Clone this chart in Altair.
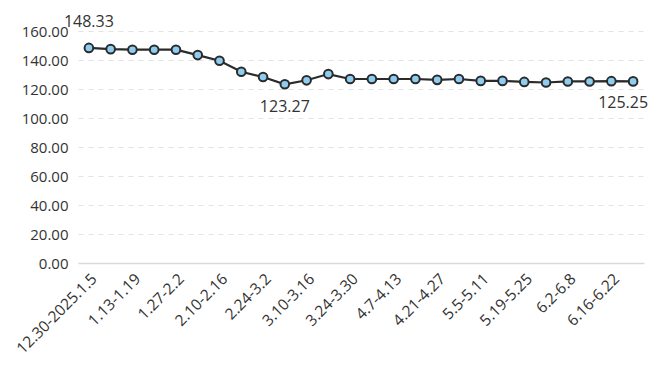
import altair as alt
import pandas as pd

weeks = ["12.30-2025.1.5", "1.6-1.12", "1.13-1.19", "1.20-1.26", "1.27-2.2", "2.3-2.9",
         "2.10-2.16", "2.17-2.23", "2.24-3.2", "3.3-3.9", "3.10-3.16", "3.17-3.23",
         "3.24-3.30", "3.31-4.6", "4.7-4.13", "4.14-4.20", "4.21-4.27", "4.28-5.4",
         "5.5-5.11", "5.12-5.18", "5.19-5.25", "5.26-6.1", "6.2-6.8", "6.9-6.15",
         "6.16-6.22", "6.23-6.29"]
values = [148.33, 147.5, 147.1, 147.1, 147.1, 143.4, 139.5, 131.9, 128.3, 123.27,
          126.0, 130.3, 126.9, 126.9, 126.9, 126.9, 126.3, 126.9, 125.6, 125.6,
          124.9, 124.5, 125.2, 125.2, 125.4, 125.25]
tick_labels = weeks[::2]
y_ticks = [0, 20, 40, 60, 80, 100, 120, 140, 160]

df = pd.DataFrame({"week": weeks, "value": values})

imax = values.index(max(values))
imin = values.index(min(values))
ilast = len(values) - 1
ann_max = pd.DataFrame({"week": [weeks[imax]], "value": [values[imax]]})
ann_min = pd.DataFrame({"week": [weeks[imin]], "value": [values[imin]]})
ann_last = pd.DataFrame({"week": [weeks[ilast]], "value": [values[ilast]]})

FONT = "Open Sans"

x = alt.X("week:N", sort=weeks,
          scale=alt.Scale(type="point", padding=0.5),
          axis=alt.Axis(title=None, values=tick_labels, labelAngle=-45, labelAlign="right",
                        labelBaseline="top", labelFontSize=15.5, labelColor="#333",
                        labelFont=FONT, ticks=False, domainColor="#d9d9d9", domainWidth=1.5,
                        grid=False, labelPadding=8, labelOverlap=False))
y = alt.Y("value:Q",
          scale=alt.Scale(domain=[0, 160], nice=False),
          axis=alt.Axis(title=None, values=y_ticks, format=".2f",
                        labelFontSize=15, labelColor="#333", labelFont=FONT,
                        labelOverlap=False, labelFlush=False,
                        domain=False, ticks=False, labelPadding=10,
                        gridColor="#e3e3e3", gridDash=[5, 5], gridWidth=1))

base = alt.Chart(df)
line = base.mark_line(color="#2b2b2b", strokeWidth=2.2).encode(x=x, y=y)
pts = base.mark_point(filled=True, fill="#8ecdf0", stroke="#2b2b2b", strokeWidth=2,
                      size=75, opacity=1).encode(x=x, y=y)


def ann(d, dy, dx=0):
    return alt.Chart(d).mark_text(dy=dy, dx=dx, fontSize=16, color="#333", font=FONT).encode(
        x=x, y=y, text=alt.Text("value:Q", format=".2f"))


chart = alt.layer(line, pts, ann(ann_max, -26), ann(ann_min, 23), ann(ann_last, 22, -10)).properties(
    width=566, height=232,
    autosize=alt.AutoSizeParams(type="none"),
    padding={"left": 70, "top": 23, "right": 12, "bottom": 105},
).configure_view(stroke=None)

chart.save("out.html", embed_options={"renderer": "svg", "actions": False})
